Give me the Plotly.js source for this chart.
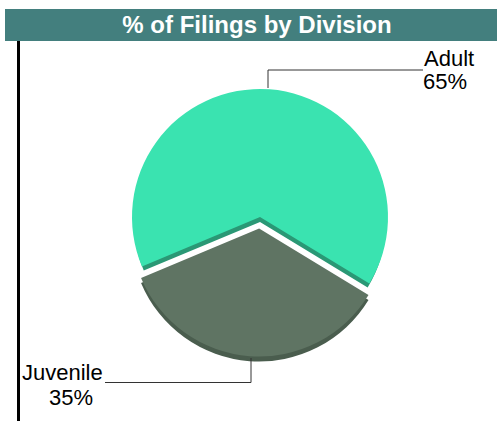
<!DOCTYPE html>
<html>
<head>
<meta charset="utf-8">
<script src="https://cdn.plot.ly/plotly-3.0.1.min.js"></script>
<style>
html,body{margin:0;padding:0;background:#fff;}
#chart{width:497px;height:421px;}
</style>
</head>
<body>
<div id="chart"></div>
<script>
// ---- data ----
const categories = ['Adult', 'Juvenile'];
const percents = [65, 35];
const pulls = [0, 0.09];
const faceColors = ['#3ae3b0', '#5f7463'];
const rimColors = ['#2a9875', '#4a5d4e'];
const chartTitle = '% of Filings by Division';

// ---- geometry helpers (pixels -> paper fractions) ----
const W = 497, H = 421;
const px = v => v / W;
const py = v => 1 - v / H;

const cx = 260, cy = 217, r = 128;
const maxPull = Math.max(...pulls);
const rim = 5;
const clear = 'rgba(0,0,0,0)';

function pieTrace(colors, dy, radius) {
  const half = radius * (1 + maxPull);
  return {
    type: 'pie',
    labels: categories,
    values: percents,
    sort: false,
    direction: 'clockwise',
    rotation: -112.7,
    pull: pulls,
    marker: {colors: colors, line: {width: 0}},
    textinfo: 'none',
    hoverinfo: 'label+percent',
    showlegend: false,
    domain: {
      x: [px(cx - half), px(cx + half)],
      y: [py(cy + dy + half), py(cy + dy - half)]
    }
  };
}

// rim (side) of each slice drawn as a darker copy a few pixels lower
const data = [
  pieTrace([rimColors[0], clear], rim, r - 2),
  pieTrace([clear, rimColors[1]], rim, r),
  pieTrace(faceColors, 0, r)
];

const lineStyle = {color: '#333333', width: 1};
const labelFont = {family: 'Liberation Sans, Arial, sans-serif', size: 22, color: '#000'};

const layout = {
  width: W, height: H,
  margin: {l: 0, r: 0, t: 0, b: 0},
  paper_bgcolor: '#ffffff',
  showlegend: false,
  title: {
    text: chartTitle,
    x: 257 / W, xanchor: 'center',
    y: 1 - 25 / H, yanchor: 'middle', yref: 'container',
    font: {family: 'Liberation Sans, Arial, sans-serif', size: 24, color: '#ffffff', weight: 'bold'}
  },
  shapes: [
    {type: 'rect', xref: 'paper', yref: 'paper', x0: px(5), x1: px(497), y0: py(41), y1: py(9),
     fillcolor: '#437f7e', line: {width: 0}, layer: 'below'},
    {type: 'line', xref: 'paper', yref: 'paper', x0: px(18.5), x1: px(18.5), y0: py(421), y1: py(41),
     line: {color: '#000000', width: 3}},
    {type: 'path', xref: 'paper', yref: 'paper',
     path: `M ${px(268)} ${py(88)} L ${px(268)} ${py(70)} L ${px(423)} ${py(70)}`,
     line: lineStyle},
    {type: 'path', xref: 'paper', yref: 'paper',
     path: `M ${px(251)} ${py(358)} L ${px(251)} ${py(382.5)} L ${px(105)} ${py(382.5)}`,
     line: lineStyle}
  ],
  annotations: [
    {text: categories[0], xref: 'paper', yref: 'paper', x: px(422), y: py(58), xanchor: 'left', yanchor: 'middle', showarrow: false, font: labelFont},
    {text: percents[0] + '%', xref: 'paper', yref: 'paper', x: px(421), y: py(82), xanchor: 'left', yanchor: 'middle', showarrow: false, font: labelFont},
    {text: categories[1], xref: 'paper', yref: 'paper', x: px(20), y: py(372), xanchor: 'left', yanchor: 'middle', showarrow: false, font: labelFont},
    {text: percents[1] + '%', xref: 'paper', yref: 'paper', x: px(71), y: py(397), xanchor: 'center', yanchor: 'middle', showarrow: false, font: labelFont}
  ]
};

Plotly.newPlot('chart', data, layout, {displayModeBar: false, staticPlot: true});
</script>
</body>
</html>
